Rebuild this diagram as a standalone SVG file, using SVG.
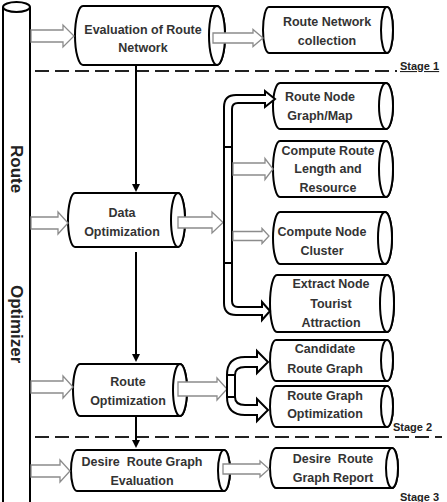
<svg xmlns="http://www.w3.org/2000/svg" width="447" height="502" viewBox="0 0 447 502">
<style>
  .cyl { fill: #fff; stroke: #000; stroke-width: 2; }
  .t { font-family: "Liberation Sans", Arial, sans-serif; font-weight: bold; font-size: 12.5px; fill: #333; text-anchor: middle; }
  .side { font-family: "Liberation Sans", Arial, sans-serif; font-weight: bold; font-size: 17px; fill: #222; }
  .stage { font-family: "Liberation Sans", Arial, sans-serif; font-weight: bold; font-size: 11px; fill: #222; }
  .dash { stroke: #222; stroke-width: 1.8; stroke-dasharray: 14 6; fill: none; }
  .ga { fill: #fff; stroke: #8c8c8c; stroke-width: 1.3; stroke-linejoin: miter; }
  .ba { fill: #fff; stroke: #000; stroke-width: 2; stroke-linejoin: miter; }
  .v { stroke: #000; stroke-width: 2; fill: none; marker-end: url(#ah); }
</style>
<defs>
  <marker id="ah" viewBox="0 0 10 10" refX="2.5" refY="5" markerWidth="4" markerHeight="4" orient="auto">
    <path d="M0,0 L10,5 L0,10 z" fill="#000"/>
  </marker>
</defs>
<rect width="447" height="502" fill="#fff"/>

<g id="route-optimizer">
  <path class="cyl" d="M3,7 L3,510 L30,510 L30,7"/>
  <ellipse class="cyl" cx="16.5" cy="7" rx="13.5" ry="5"/>
  <text class="side" transform="translate(11,145) rotate(90)">Route</text>
  <text class="side" transform="translate(11,285) rotate(90)">Optimizer</text>
</g>

<g id="stages">
  <line class="dash" x1="35" y1="71" x2="397" y2="71"/>
  <text class="stage" x="400" y="70" text-decoration="underline">Stage 1</text>
  <line class="dash" x1="35" y1="437" x2="442" y2="437"/>
  <text class="stage" x="393" y="431">Stage 2</text>
  <text class="stage" x="400" y="501">Stage 3</text>
</g>

<g id="eval-route-network">
  <path class="cyl" d="M83,6 L217,6 A8,29.5 0 0 1 217,65 L83,65 A8,29.5 0 0 1 83,6 Z"/>
  <ellipse class="cyl" cx="217" cy="35.5" rx="8" ry="29.5"/>
  <text class="t" x="143" y="33.5">Evaluation of Route</text>
  <text class="t" x="143" y="52">Network</text>
</g>

<g id="route-network-collection">
  <path class="cyl" d="M269,7 L387,7 A6,23 0 0 1 387,53 L269,53 A6,23 0 0 1 269,7 Z"/>
  <ellipse class="cyl" cx="387" cy="30" rx="6" ry="23"/>
  <text class="t" x="327" y="25.5">Route Network</text>
  <text class="t" x="327" y="44.5">collection</text>
</g>

<g id="data-optimization">
  <path class="cyl" d="M75,193 L178,193 A7,27 0 0 1 178,247 L75,247 A7,27 0 0 1 75,193 Z"/>
  <ellipse class="cyl" cx="178" cy="220" rx="7" ry="27"/>
  <text class="t" x="122" y="216.5">Data</text>
  <text class="t" x="122" y="235.5">Optimization</text>
</g>

<g id="route-optimization">
  <path class="cyl" d="M80,364 L180,364 A7,26 0 0 1 180,416 L80,416 A7,26 0 0 1 80,364 Z"/>
  <ellipse class="cyl" cx="180" cy="390" rx="7" ry="26"/>
  <text class="t" x="128" y="385.5">Route</text>
  <text class="t" x="128" y="404.5">Optimization</text>
</g>

<g id="desire-route-graph-evaluation">
  <path class="cyl" d="M77,450 L224,450 A6,20.5 0 0 1 224,491 L77,491 A6,20.5 0 0 1 77,450 Z"/>
  <ellipse class="cyl" cx="224" cy="470.5" rx="6" ry="20.5"/>
  <text class="t" x="142" y="465.5" xml:space="preserve">Desire  Route Graph</text>
  <text class="t" x="142" y="484.5">Evaluation</text>
</g>

<g id="desire-route-graph-report">
  <path class="cyl" d="M276,448 L392,448 A6,20 0 0 1 392,488 L276,488 A6,20 0 0 1 276,448 Z"/>
  <ellipse class="cyl" cx="392" cy="468" rx="6" ry="20"/>
  <text class="t" x="333" y="462.5" xml:space="preserve">Desire  Route</text>
  <text class="t" x="333" y="481.5">Graph Report</text>
</g>

<g id="route-node-graph-map">
  <path class="cyl" d="M280,83 L386,83 A7,23 0 0 1 386,129 L280,129 A7,23 0 0 1 280,83 Z"/>
  <ellipse class="cyl" cx="386" cy="106" rx="7" ry="23"/>
  <text class="t" x="320" y="100.5">Route Node</text>
  <text class="t" x="320" y="119.5">Graph/Map</text>
</g>

<g id="compute-route-length">
  <path class="cyl" d="M280,141 L386,141 A7,28 0 0 1 386,197 L280,197 A7,28 0 0 1 280,141 Z"/>
  <ellipse class="cyl" cx="386" cy="169" rx="7" ry="28"/>
  <text class="t" x="328" y="154.5">Compute Route</text>
  <text class="t" x="328" y="173">Length and</text>
  <text class="t" x="328" y="191.5">Resource</text>
</g>

<g id="compute-node-cluster">
  <path class="cyl" d="M280,212 L385,212 A7,26 0 0 1 385,264 L280,264 A7,26 0 0 1 280,212 Z"/>
  <ellipse class="cyl" cx="385" cy="238" rx="7" ry="26"/>
  <text class="t" x="322" y="235.5">Compute Node</text>
  <text class="t" x="322" y="254.5">Cluster</text>
</g>

<g id="extract-node-tourist-attraction">
  <path class="cyl" d="M277,275 L387,275 A7,28.5 0 0 1 387,332 L277,332 A7,28.5 0 0 1 277,275 Z"/>
  <ellipse class="cyl" cx="387" cy="303.5" rx="7" ry="28.5"/>
  <text class="t" x="331" y="288">Extract Node</text>
  <text class="t" x="331" y="307.5">Tourist</text>
  <text class="t" x="331" y="327">Attraction</text>
</g>

<g id="candidate-route-graph">
  <path class="cyl" d="M276,340 L387,340 A6,20.5 0 0 1 387,381 L276,381 A6,20.5 0 0 1 276,340 Z"/>
  <ellipse class="cyl" cx="387" cy="360.5" rx="6" ry="20.5"/>
  <text class="t" x="325" y="352.5">Candidate</text>
  <text class="t" x="325" y="372.5">Route Graph</text>
</g>

<g id="route-graph-optimization">
  <path class="cyl" d="M276,386 L387,386 A6,20.5 0 0 1 387,427 L276,427 A6,20.5 0 0 1 276,386 Z"/>
  <ellipse class="cyl" cx="387" cy="406.5" rx="6" ry="20.5"/>
  <text class="t" x="325" y="399.5">Route Graph</text>
  <text class="t" x="325" y="418">Optimization</text>
</g>

<g id="connectors">
  <!-- inputs from Route Optimizer -->
  <polygon class="ga" points="31,30 63,30 63,25 74,36 63,47 63,42 31,42"/>
  <polygon class="ga" points="31,217 58,217 58,212 68,223 58,234 58,229 31,229"/>
  <polygon class="ga" points="31,381 63,381 63,376 73,387 63,398 63,393 31,393"/>
  <polygon class="ga" points="31,465 60,465 60,460 70,471 60,482 60,477 31,477"/>
  <!-- flow arrows -->
  <line class="v" x1="136" y1="65" x2="136" y2="186"/>
  <line class="v" x1="136" y1="252" x2="136" y2="356"/>
  <line class="v" x1="136" y1="416" x2="136" y2="442"/>
  <!-- outputs -->
  <polygon class="ga" points="213,33 253,33 253,29.5 263,38 253,46.5 253,43 213,43"/>
  <polygon class="ga" points="178,217 212,217 212,212 223,222.5 212,233 212,228 178,228"/>
  <polygon class="ga" points="178,382 217,382 217,378 227,389 217,400 217,396 178,396"/>
  <polygon class="ga" points="223,464 260,464 260,461 269,469 260,477 260,474 223,474"/>
  <!-- distribution bus -->
  <path class="ba" d="M224,147 L224,107 Q224,95 236,95 L265,95 L265,91 L275,99 L265,107 L265,103 L238,103 Q232,103 232,109 L232,147 Z"/>
  <rect class="ba" x="224" y="147" width="8" height="116"/>
  <path class="ba" d="M224,263 L224,303 Q224,315 236,315 L262,315 L262,320 L270,311 L262,302 L262,307 L238,307 Q232,307 232,301 L232,263 Z"/>
  <polygon class="ga" points="233,163 265,163 265,158.5 273,169 265,179.5 265,175 233,175"/>
  <polygon class="ga" points="233,231.5 262,231.5 262,228.5 269,236 262,243.5 262,240.5 233,240.5"/>
  <!-- fork -->
  <path class="ba" d="M227,375 Q227,357 245,357 L257,357 L257,351 L268,362 L257,373 L257,367 L245,367 Q235,367 235,375 Z"/>
  <path class="ba" d="M227,397 Q227,415 245,415 L257,415 L257,421 L268,410 L257,399 L257,405 L245,405 Q235,405 235,397 Z"/>
  <rect class="ba" x="227" y="375" width="8" height="22"/>
</g>
</svg>
